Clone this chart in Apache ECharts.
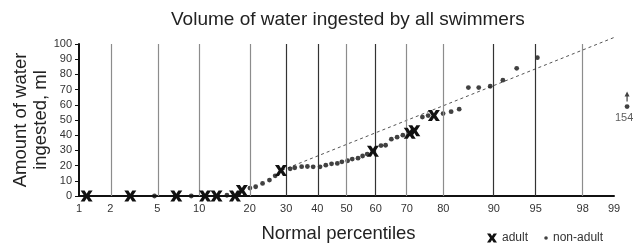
<!DOCTYPE html>
<html>
<head>
<meta charset="utf-8">
<script src="https://cdn.jsdelivr.net/npm/echarts@6/dist/echarts.min.js"></script>
<style>
    html, body { margin: 0; padding: 0; background: #fff; }
    #main { width: 633px; height: 246px; }
</style>
</head>
<body>
<div id="main"></div>
<script>
    // 横轴：正态百分位刻度
    var percentTicks = [1, 2, 5, 10, 20, 30, 40, 50, 60, 70, 80, 90, 95, 98, 99];
    // 网格线颜色（深/浅交替，跟原图一致）
    var gridColors = ['#8c8c8c', '#8c8c8c', '#8c8c8c', '#8c8c8c', '#333', '#333', '#8c8c8c',
                      '#333', '#8c8c8c', '#8c8c8c', '#333', '#333', '#8c8c8c', '#8c8c8c'];

    // adult：正态得分 / 摄入量 ml
    var adultScore = [-2.26, -1.88, -1.48, -1.23, -1.13, -0.97, -0.91, -0.57, 0.23, 0.55, 0.59, 0.76];
    var adultMl = [0, 0, 0, 0, 0, 0, 3.7, 16.8, 29.5, 41.3, 42.9, 52.9];

    // non-adult
    var childScore = [-1.67, -1.35, -1.04, -0.84, -0.79, -0.73, -0.67, -0.62, -0.49, -0.45,
                      -0.39, -0.34, -0.29, -0.23, -0.18, -0.13, -0.08, -0.04, 0.01, 0.05,
                      0.10, 0.14, 0.18, 0.30, 0.34, 0.39, 0.44, 0.49, 0.66, 0.71,
                      0.84, 0.91, 0.98, 1.06, 1.15, 1.25, 1.36, 1.48, 1.66];
    var childMl = [0, 0, 0.5, 5.2, 6.1, 8.3, 10.5, 13.3, 17.9, 18.6,
                   19.3, 19.4, 19.2, 19.2, 20.3, 21.2, 21.4, 22.5, 23.2, 24.3,
                   24.9, 26.3, 27.6, 33.2, 33.4, 37.4, 38.7, 40, 51.9, 52.9,
                   54.2, 55.5, 57.1, 71.3, 71.3, 72.2, 76.2, 84, 91];

    // 拟合虚线
    var fitScore = [-0.56, 2.35];
    var fitMl = [17, 105];

    // 超出范围的点
    var outlierScore = 2.44;
    var outlierMl = 154;

    // 反正态分布函数 (Acklam)
    function probit(p) {
        var a = [-3.969683028665376e+01, 2.209460984245205e+02, -2.759285104469687e+02, 1.383577518672690e+02, -3.066479806614716e+01, 2.506628277459239e+00];
        var b = [-5.447609879822406e+01, 1.615858368580409e+02, -1.556989798598866e+02, 6.680131188771972e+01, -1.328068155288572e+01];
        var c = [-7.784894002430293e-03, -3.223964580411365e-01, -2.400758277161838e+00, -2.549732539343734e+00, 4.374664141464968e+00, 2.938163982698783e+00];
        var d = [7.784695709041462e-03, 3.224671290700398e-01, 2.445134137142996e+00, 3.754408661907416e+00];
        var pl = 0.02425, q, r;
        if (p < pl) {
            q = Math.sqrt(-2 * Math.log(p));
            return (((((c[0]*q+c[1])*q+c[2])*q+c[3])*q+c[4])*q+c[5]) / ((((d[0]*q+d[1])*q+d[2])*q+d[3])*q+1);
        }
        if (p > 1 - pl) {
            q = Math.sqrt(-2 * Math.log(1 - p));
            return -(((((c[0]*q+c[1])*q+c[2])*q+c[3])*q+c[4])*q+c[5]) / ((((d[0]*q+d[1])*q+d[2])*q+d[3])*q+1);
        }
        q = p - 0.5; r = q * q;
        return (((((a[0]*r+a[1])*r+a[2])*r+a[3])*r+a[4])*r+a[5])*q / (((((b[0]*r+b[1])*r+b[2])*r+b[3])*r+b[4])*r+1);
    }

    var tickZ = percentTicks.map(function (p) { return probit(p / 100); });

    function pairs(xs, ys) {
        return xs.map(function (x, i) { return [x, ys[i]]; });
    }

    var xIcon = 'path://M0,0 L4,0 L6,3.2 L8,0 L12,0 L8.3,5.5 L12,11 L8,11 L6,7.8 L4,11 L0,11 L3.7,5.5 Z';
    var dotIcon = 'path://M0,0 L0.01,0 M10,10 L9.99,10 M6.2,5 A1.8,1.8 0 1 1 9.8,5 A1.8,1.8 0 1 1 6.2,5 Z';
    var arrowIcon = 'path://M2.5,0 L5,5 L3.1,5 L3.1,10 L1.9,10 L1.9,5 L0,5 Z';
    var font = 'Liberation Sans';

    var myChart = echarts.init(document.getElementById('main'));

    var option = {
        animation: false,
        backgroundColor: '#fff',
        title: {
            text: 'Volume of water ingested by all swimmers',
            left: 171,
            top: 10,
            padding: 0,
            textStyle: { fontSize: 19, fontWeight: 'normal', color: '#222', fontFamily: font }
        },
        legend: {
            data: [
                { name: 'adult', icon: xIcon },
                { name: 'non-adult', icon: dotIcon }
            ],
            left: 487,
            top: 232,
            padding: 0,
            itemWidth: 10,
            itemHeight: 10,
            itemGap: 10,
            textStyle: { fontSize: 12, color: '#333', fontFamily: font }
        },
        grid: {
            left: 79,
            right: 19,
            top: 44,
            bottom: 50,
            containLabel: false,
            outerBoundsMode: 'none'
        },
        xAxis: {
            type: 'value',
            min: tickZ[0],
            max: tickZ[tickZ.length - 1],
            name: 'Normal percentiles',
            nameLocation: 'middle',
            nameGap: 28,
            nameMoveOverlap: false,
            nameTextStyle: { fontSize: 18.5, color: '#222', fontFamily: font, padding: [0, 16, 0, 0] },
            axisLine: { onZero: false, lineStyle: { color: '#111', width: 2 } },
            axisTick: { show: false },
            splitLine: { show: false },
            axisLabel: {
                customValues: tickZ,
                margin: 7,
                fontSize: 11,
                color: '#333',
                fontFamily: font,
                formatter: function (v) {
                    for (var i = 0; i < tickZ.length; i++) {
                        if (Math.abs(tickZ[i] - v) < 1e-6) return String(percentTicks[i]);
                    }
                    return '';
                }
            }
        },
        yAxis: {
            type: 'value',
            min: 0,
            max: 100,
            interval: 10,
            name: 'Amount of water\ningested, ml',
            nameLocation: 'middle',
            nameGap: 28,
            nameMoveOverlap: false,
            nameTextStyle: { fontSize: 18.5, color: '#222', fontFamily: font, lineHeight: 20 },
            axisLine: { show: true, onZero: false, lineStyle: { color: '#111', width: 2 } },
            axisTick: { show: true, length: 4, lineStyle: { color: '#111', width: 1 } },
            splitLine: { show: false },
            axisLabel: { margin: 7, fontSize: 11, color: '#333', fontFamily: font }
        },
        series: [
            {
                name: 'grid',
                type: 'line',
                data: [],
                silent: true,
                markLine: {
                    symbol: ['none', 'none'],
                    silent: true,
                    label: { show: false },
                    data: tickZ.slice(1).map(function (z, i) {
                        return { xAxis: z, lineStyle: { color: gridColors[i], width: 1.2, type: 'solid' } };
                    })
                }
            },
            {
                name: 'fit',
                type: 'line',
                data: pairs(fitScore, fitMl),
                symbol: 'none',
                clip: false,
                lineStyle: { color: '#555', width: 1, type: [3, 3] },
                z: 3
            },
            {
                name: 'non-adult',
                type: 'scatter',
                data: pairs(childScore, childMl),
                symbol: 'circle',
                symbolSize: 4.8,
                clip: false,
                itemStyle: { color: '#111' },
                z: 4
            },
            {
                name: 'adult',
                type: 'scatter',
                data: pairs(adultScore, adultMl),
                symbol: xIcon,
                symbolSize: [12, 11],
                clip: false,
                itemStyle: { color: '#111', opacity: 1 },
                z: 5
            },
            {
                // 154 ml，画在图外右侧，带箭头
                name: 'offscale',
                type: 'scatter',
                data: [[outlierScore, 58.8]],
                symbol: 'circle',
                symbolSize: 4.8,
                clip: false,
                itemStyle: { color: '#111' },
                label: {
                    show: true,
                    position: 'bottom',
                    distance: 3,
                    offset: [-3, 0],
                    formatter: String(outlierMl),
                    fontSize: 11,
                    color: '#333',
                    fontFamily: font
                },
                z: 4
            },
            {
                name: 'arrow',
                type: 'scatter',
                data: [[outlierScore, 65.5]],
                symbol: arrowIcon,
                symbolSize: [5, 10],
                clip: false,
                itemStyle: { color: '#111' }
            }
        ]
    };

    myChart.setOption(option);
</script>
</body>
</html>
